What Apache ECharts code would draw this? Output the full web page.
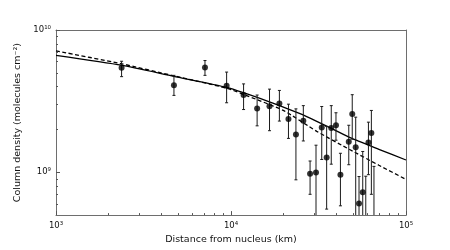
<!DOCTYPE html>
<html><head><meta charset="utf-8">
<script src="https://cdn.jsdelivr.net/npm/echarts@6/dist/echarts.min.js"></script>
<style>html,body{margin:0;padding:0;background:#fff}#c{width:450px;height:250px}</style>
</head><body><div id="c"></div>
<script>
// ---- data ----
const xTickValues = [1e3, 1e4, 1e5];
const yTickValues = [1e9, 1e10];
const xMinorTicks = [2e3,3e3,4e3,5e3,6e3,7e3,8e3,9e3,2e4,3e4,4e4,5e4,6e4,7e4,8e4,9e4];
const yMinorTicks = [6e8,7e8,8e8,9e8,2e9,3e9,4e9,5e9,6e9,7e9,8e9,9e9];
const xRange = [1e3, 1e5];
const yRange = [5e8, 1e10];

const distance = [2370,4720,7100,9440,11800,14100,16600,18900,21300,23500,25900,28300,30600,33000,35200,37400,39800,42200,47100,49300,51600,53900,56600,58900,61000,63400,65600];
const density  = [5.43e9,4.09e9,5.45e9,4.05e9,3.49e9,2.81e9,2.91e9,3.04e9,2.37e9,1.84e9,2.30e9,9.77e8,9.96e8,2.06e9,1.27e9,2.05e9,2.14e9,9.62e8,1.64e9,2.57e9,1.50e9,6.03e8,7.23e8,4.5e8,1.62e9,1.89e9,4.2e8];
const errUpper = [6.03e9,4.80e9,6.10e9,5.06e9,4.18e9,3.49e9,3.84e9,3.76e9,3.01e9,2.79e9,2.94e9,1.20e9,1.55e9,2.90e9,2.10e9,2.94e9,2.62e9,1.36e9,2.14e9,3.51e9,2.44e9,9.33e8,1.40e9,9.38e8,2.25e9,2.72e9,1.10e9];
const errLower = [4.70e9,3.47e9,4.80e9,3.08e9,2.76e9,2.12e9,1.96e9,2.29e9,1.73e9,8.85e8,1.66e9,7.00e8,4.0e8,1.23e9,5.51e8,1.14e9,1.68e9,5.81e8,1.13e9,1.71e9,4.6e8,2.7e8,4.0e8,1.0e8,9.62e8,7.0e8,1.0e8];

const modelSolidX = [1000,2370,4720,9440,16000,24800,30900,38500,47900,70000,100000];
const modelSolidY = [6.64e9,5.66e9,4.72e9,3.95e9,3.18e9,2.58e9,2.28e9,2.00e9,1.75e9,1.45e9,1.22e9];
const modelDashX  = [1000,2370,4720,9440,12500,19900,30900,47900,70000,100000];
const modelDashY  = [7.14e9,5.79e9,4.76e9,3.90e9,3.43e9,2.72e9,1.94e9,1.44e9,1.12e9,8.91e8];

// ---- build ----
const L = Math.log10;
const sup = {'0':'⁰','1':'¹','2':'²','3':'³','4':'⁴','5':'⁵','6':'⁶','7':'⁷','8':'⁸','9':'⁹','-':'⁻'};
const powLabel = v => '10' + String(Math.round(v)).split('').map(c => sup[c]).join('');
const TXT = '#111';
const SPINE = '#6e6e6e';
const TICK = '#555';
const FONT = 'DejaVu Sans';

const chart = echarts.init(document.getElementById('c'), null, {renderer: 'canvas'});
const gridRect = {left: 56, right: 44, top: 30, bottom: 32};

const baseX = {type: 'value', min: L(xRange[0]), max: L(xRange[1]), splitLine: {show: false}};
const baseY = {type: 'value', min: L(yRange[0]), max: L(yRange[1]), splitLine: {show: false}};

chart.setOption({
  animation: false,
  grid: Object.assign({containLabel: false}, gridRect),
  xAxis: [
    Object.assign({}, baseX, {
      position: 'bottom', interval: 1,
      name: 'Distance from nucleus (km)', nameLocation: 'middle', nameGap: 15,
      nameTextStyle: {fontFamily: FONT, fontSize: 9.5, color: TXT},
      axisLine: {show: true, onZero: false, lineStyle: {color: SPINE, width: 1}},
      axisTick: {show: true, inside: true, length: 4, lineStyle: {color: TICK}, customValues: xTickValues.map(L)},
      axisLabel: {show: true, margin: 6, fontFamily: FONT, fontSize: 8.5, color: TXT, customValues: xTickValues.map(L), formatter: powLabel}
    }),
    Object.assign({}, baseX, {
      position: 'bottom',
      axisLine: {show: false, onZero: false},
      axisTick: {show: true, inside: true, length: 2, lineStyle: {color: TICK}, customValues: xMinorTicks.map(L)},
      axisLabel: {show: false}
    }),
    Object.assign({}, baseX, {
      position: 'top',
      axisLine: {show: true, onZero: false, lineStyle: {color: SPINE, width: 1}},
      axisTick: {show: false}, axisLabel: {show: false}
    })
  ],
  yAxis: [
    Object.assign({}, baseY, {
      position: 'left',
      name: 'Column density (molecules cm⁻²)', nameLocation: 'middle', nameGap: 23, nameRotate: 90,
      nameTextStyle: {fontFamily: FONT, fontSize: 9.5, color: TXT},
      axisLine: {show: true, onZero: false, lineStyle: {color: SPINE, width: 1}},
      axisTick: {show: true, inside: true, length: 4, lineStyle: {color: TICK}, customValues: yTickValues.map(L)},
      axisLabel: {show: true, margin: 5, fontFamily: FONT, fontSize: 8.5, color: TXT, customValues: yTickValues.map(L), formatter: powLabel}
    }),
    Object.assign({}, baseY, {
      position: 'left',
      axisLine: {show: false, onZero: false},
      axisTick: {show: true, inside: true, length: 2, lineStyle: {color: TICK}, customValues: yMinorTicks.map(L)},
      axisLabel: {show: false}
    }),
    Object.assign({}, baseY, {
      position: 'right',
      axisLine: {show: true, onZero: false, lineStyle: {color: SPINE, width: 1}},
      axisTick: {show: false}, axisLabel: {show: false}
    })
  ],
  series: [
    {
      type: 'line', xAxisIndex: 0, yAxisIndex: 0, symbol: 'none', smooth: 0.2, z: 2,
      lineStyle: {color: '#000', width: 1.3, type: 'solid'},
      data: modelSolidX.map((x, i) => [L(x), L(modelSolidY[i])])
    },
    {
      type: 'line', xAxisIndex: 0, yAxisIndex: 0, symbol: 'none', smooth: 0.2, z: 2,
      lineStyle: {color: '#000', width: 1.3, type: [4, 2.5]},
      data: modelDashX.map((x, i) => [L(x), L(modelDashY[i])])
    },
    {
      type: 'custom', xAxisIndex: 0, yAxisIndex: 0, clip: true, z: 3,
      encode: {x: 0, y: [1, 2]},
      data: distance.map((x, i) => [L(x), L(errLower[i]), L(errUpper[i])]),
      renderItem: function (params, api) {
        const x = api.value(0);
        const lo = api.coord([x, api.value(1)]);
        const hi = api.coord([x, api.value(2)]);
        const c = 1.5;
        const st = {stroke: '#1a1a1a', lineWidth: 1};
        return {type: 'group', children: [
          {type: 'line', shape: {x1: lo[0], y1: lo[1], x2: hi[0], y2: hi[1]}, style: st},
          {type: 'line', shape: {x1: hi[0]-c, y1: hi[1], x2: hi[0]+c, y2: hi[1]}, style: st},
          {type: 'line', shape: {x1: lo[0]-c, y1: lo[1], x2: lo[0]+c, y2: lo[1]}, style: st}
        ]};
      }
    },
    {
      type: 'scatter', xAxisIndex: 0, yAxisIndex: 0, clip: true, z: 4,
      symbol: 'circle', symbolSize: 6,
      itemStyle: {color: '#000'},
      data: distance.map((x, i) => [L(x), L(density[i])])
    }
  ]
});
</script>
</body></html>
